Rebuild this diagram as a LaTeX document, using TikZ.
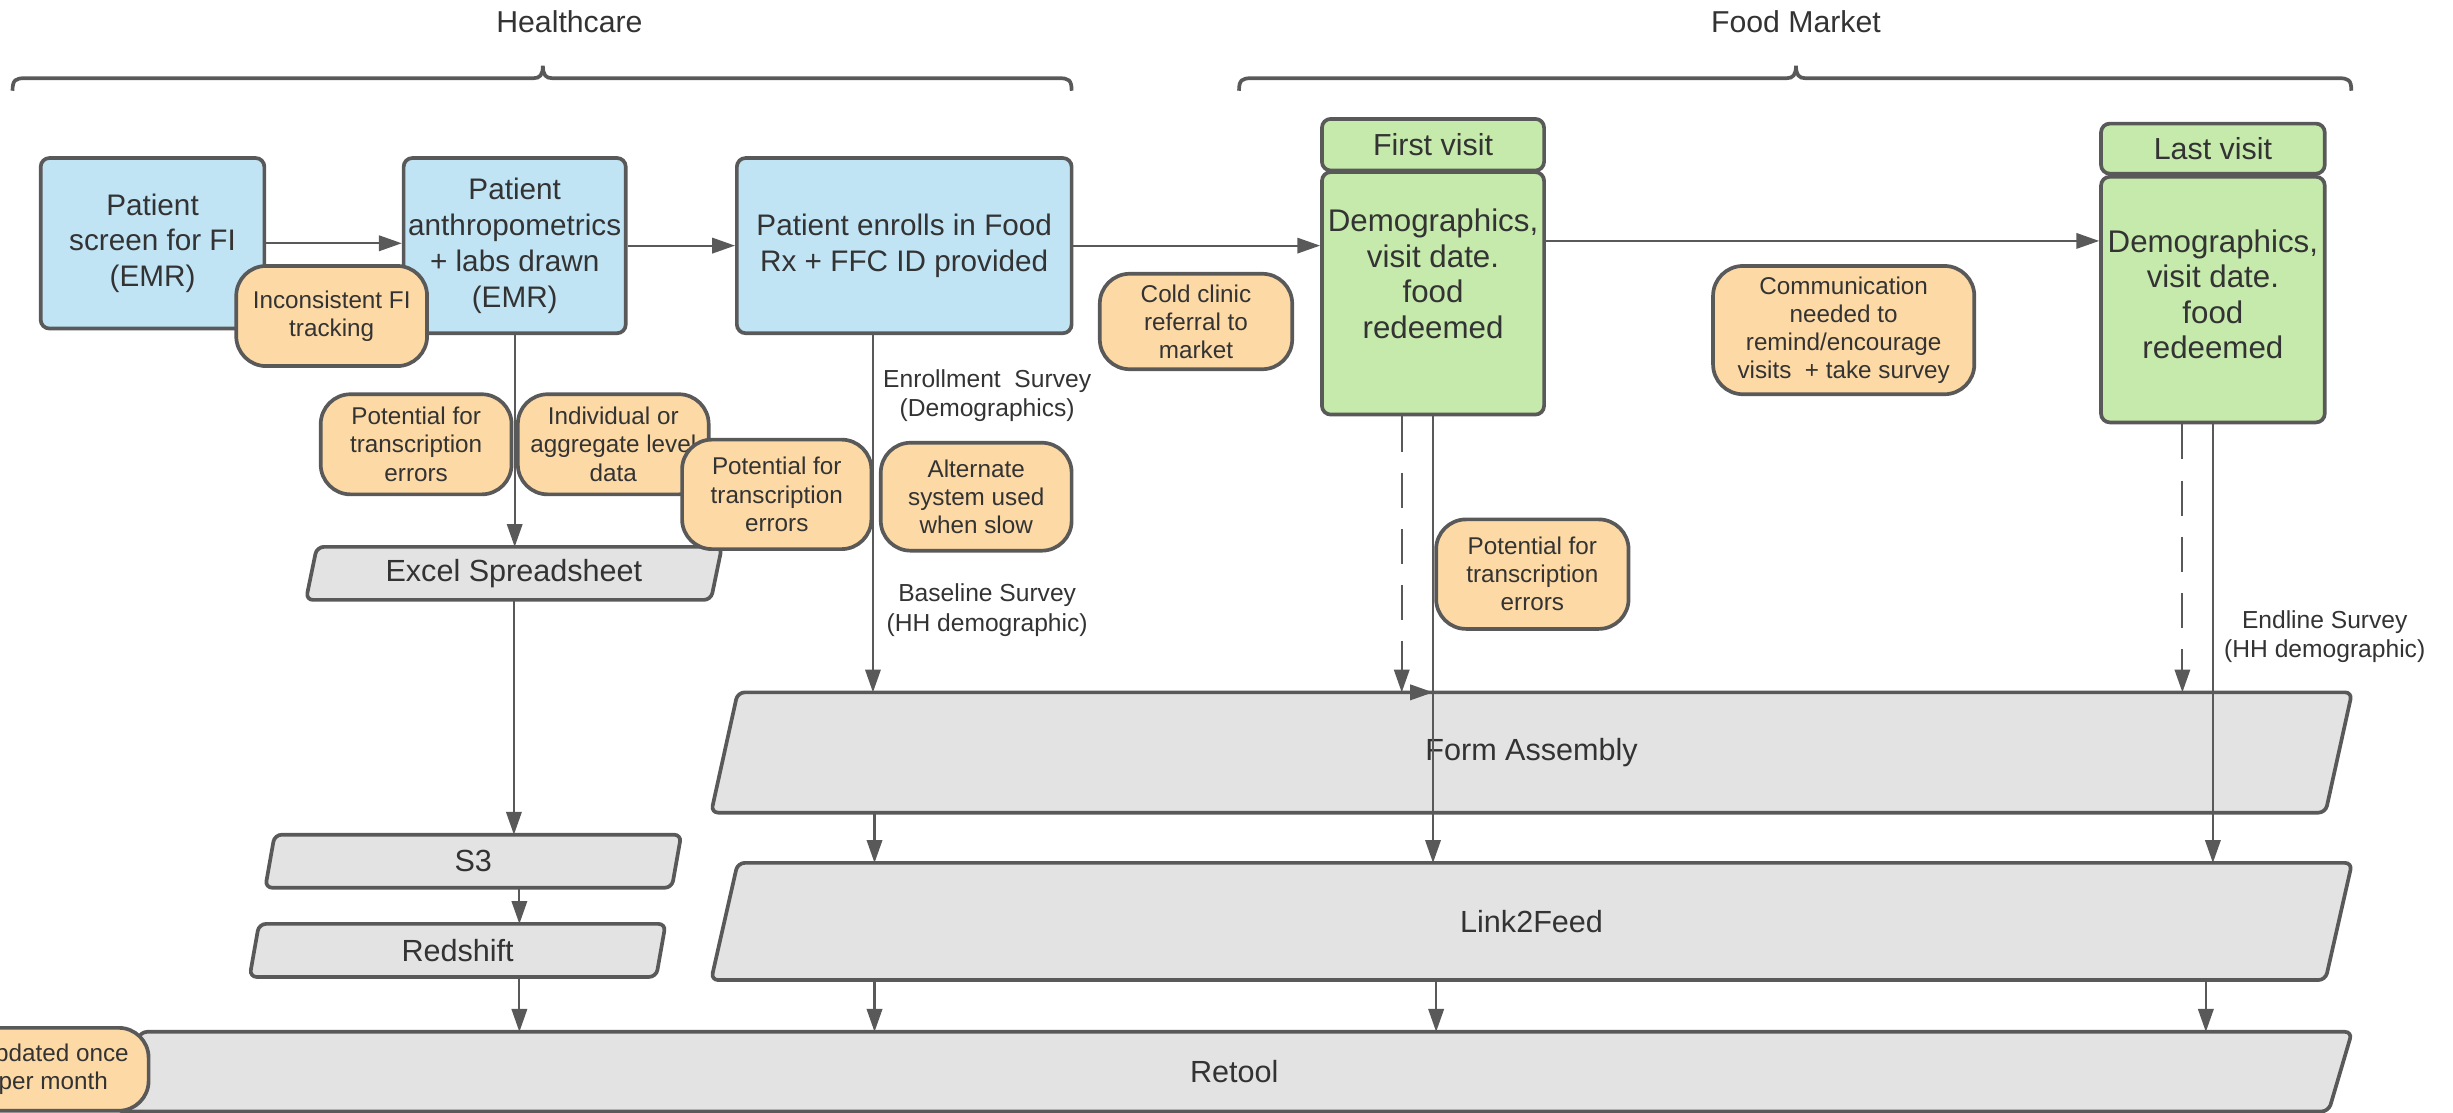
\documentclass[tikz,border=0pt]{standalone}
\usepackage{fontspec}
\setmainfont{Liberation Sans}
\usetikzlibrary{arrows.meta,backgrounds,calc}
\newlength\pxu
\setlength\pxu{0.015644cm}
\definecolor{bord}{HTML}{595959}
\definecolor{txt}{HTML}{333333}
\definecolor{bluef}{HTML}{C1E4F5}
\definecolor{greenf}{HTML}{C6E9AC}
\definecolor{orf}{HTML}{FCD9A5}
\definecolor{grayf}{HTML}{E3E3E3}
\begin{document}
\begin{tikzpicture}[x=0.015644cm, y=-0.015644cm,
  base/.style={inner sep=0pt, text=txt, align=center},
  bluebox/.style={base, draw=bord, line width=1.05pt, fill=bluef, rounded corners=2.5pt, font=\fontsize{8.45}{10.2}\selectfont},
  greenbox/.style={base, draw=bord, line width=1.05pt, fill=greenf, rounded corners=2.5pt, font=\fontsize{8.65}{10.1}\selectfont},
  gtext/.style={base, font=\fontsize{8.9}{10.1}\selectfont},
  orangebox/.style={base, draw=bord, line width=1.05pt, fill=orf, rounded corners=8.5pt, font=\fontsize{6.9}{8}\selectfont},
  paranode/.style={base, font=\fontsize{8.7}{10}\selectfont},
  parashape/.style={draw=bord, line width=1.05pt, fill=grayf, rounded corners=2pt},
  arr/.style={draw=bord, line width=0.6pt, -{Triangle[length=6.5pt,width=4.4pt]}},
  dashline/.style={dash pattern=on 10pt off 6pt},
  lbl/.style={base, font=\fontsize{7}{8.4}\selectfont},
  hdr/.style={base, font=\fontsize{8.6}{10}\selectfont},
  bracepath/.style={draw=bord, line width=1.05pt}
]
\useasboundingbox (0,0) rectangle (1568,711);

% headers and braces
\node[hdr] (hc) at (364,14) {Healthcare};
\node[hdr] (fm) at (1148,14) {Food Market};
\draw[bracepath] (8,58) .. controls (8,51) and (10,50) .. (16,50) -- (341,50) .. controls (345,50) and (347,48) .. (347,42) .. controls (347,48) and (349,50) .. (353,50) -- (677,50) .. controls (683,50) and (685,51) .. (685,58);
\draw[bracepath] (792,58) .. controls (792,51) and (794,50) .. (800,50) -- (1142,50) .. controls (1146,50) and (1148,48) .. (1148,42) .. controls (1148,48) and (1150,50) .. (1154,50) -- (1495,50) .. controls (1501,50) and (1503,51) .. (1503,58);

% gray data nodes (shapes drawn on background)
\node[paranode, minimum width=265*\pxu, minimum height=33*\pxu] (excel) at (328.5,366.5) {Excel Spreadsheet};
\node[paranode, minimum width=265*\pxu, minimum height=33*\pxu] (s3) at (302.5,550.5) {S3};
\node[paranode, minimum width=265*\pxu, minimum height=33*\pxu] (redshift) at (292.5,607.5) {Redshift};
\node[paranode, minimum width=1048*\pxu, minimum height=76*\pxu] (form) at (979,481) {Form Assembly};
\node[paranode, minimum width=1048*\pxu, minimum height=74*\pxu] (link) at (979,589) {Link2Feed};
\node[paranode, minimum width=1428*\pxu, minimum height=50*\pxu] (retool) at (789,685) {Retool};
\begin{scope}[on background layer]
\foreach \n/\s in {excel/7,s3/6,redshift/6,form/17,link/17,retool/15}
  \draw[parashape] ([xshift=\s*\pxu]\n.north west) -- (\n.north east) -- ([xshift=-\s*\pxu]\n.south east) -- (\n.south west) -- cycle;
\end{scope}

% blue boxes
\node[bluebox, minimum width=143*\pxu, minimum height=109*\pxu] (box1) at (97.5,155.5) {Patient\\screen for FI\\(EMR)};
\node[bluebox, minimum width=142*\pxu, minimum height=112*\pxu] (box2) at (329,157) {Patient\\anthropometrics\\+ labs drawn\\(EMR)};
\node[bluebox, minimum width=214*\pxu, minimum height=112*\pxu] (box3) at (578,157) {Patient enrolls in Food\\Rx + FFC ID provided};

% green boxes
\node[greenbox, minimum width=142*\pxu, minimum height=33*\pxu] (fvhead) at (916,92.5) {First visit};
\node[greenbox, minimum width=142*\pxu, minimum height=155*\pxu] (fvbody) at (916,187.5) {};
\node[gtext] (fvtext) at (916,175) {Demographics,\\visit date.\\food\\redeemed};
\node[greenbox, minimum width=143*\pxu, minimum height=32*\pxu] (lvhead) at (1414.5,95) {Last visit};
\node[greenbox, minimum width=143*\pxu, minimum height=157*\pxu] (lvbody) at (1414.5,191.5) {};
\node[gtext] (lvtext) at (1414.5,188) {Demographics,\\visit date.\\food\\redeemed};

% orange notes
\node[orangebox, minimum width=122*\pxu, minimum height=64*\pxu] (incons) at (212,202) {Inconsistent FI\\tracking};
\node[orangebox, minimum width=122*\pxu, minimum height=64*\pxu] (pot1) at (266,284) {Potential for\\transcription\\errors};
\node[orangebox, minimum width=122*\pxu, minimum height=64*\pxu] (indiv) at (392,284) {Individual or\\aggregate level\\data};
\node[orangebox, minimum width=121*\pxu, minimum height=70*\pxu] (pot2) at (496.5,316) {Potential for\\transcription\\errors};
\node[orangebox, minimum width=122*\pxu, minimum height=69*\pxu] (altern) at (624,317.5) {Alternate\\system used\\when slow};
\node[orangebox, minimum width=123*\pxu, minimum height=61*\pxu] (cold) at (764.5,205.5) {Cold clinic\\referral to\\market};
\node[orangebox, minimum width=167*\pxu, minimum height=82*\pxu] (comm) at (1178.5,211) {Communication\\needed to\\remind/encourage\\visits~ + take survey};
\node[orangebox, minimum width=123*\pxu, minimum height=70*\pxu] (pot3) at (979.5,367) {Potential for\\transcription\\errors};
\node[orangebox, minimum width=122*\pxu, minimum height=53*\pxu] (upd) at (34,683.5) {Updated once\\per month};

% labels
\node[lbl] (enrl) at (631,253) {Enrollment~ Survey\\(Demographics)};
\node[lbl] (basl) at (631,390) {Baseline Survey\\(HH demographic)};
\node[lbl] (endl) at (1486,407) {Endline Survey\\(HH demographic)};

% helper coordinates
\coordinate (xa) at (332,0);
\coordinate (xb) at (558,0);
\coordinate (xc) at (559,0);
\coordinate (xd) at (896,0);
\coordinate (xe) at (918,0);
\coordinate (xf) at (1395,0);
\coordinate (xg) at (1410,0);
\coordinate (y154) at (0,154);

% connectors
\draw[arr] (box1.east) -- (box1.east -| box2.west);
\draw[arr] (box2.east) -- (box2.east -| box3.west);
\draw[arr] (box3.east) -- (box3.east -| fvbody.west);
\draw[arr] (fvbody.east |- y154) -- (lvbody.west |- y154);
\draw[arr] (box2.south) -- (box2.south |- excel.north);
\draw[arr] (excel.south) -- (excel.south |- s3.north);
\draw[arr] (s3.south -| xa) -- (redshift.north -| xa);
\draw[arr] (redshift.south -| xa) -- (retool.north -| xa);
\draw[arr] (box3.south -| xb) -- (form.north -| xb);
\draw[arr] (form.south -| xc) -- (link.north -| xc);
\draw[arr] (link.south -| xc) -- (retool.north -| xc);
\draw[arr, dashline] (fvbody.south -| xd) -- (form.north -| xd);
\draw[arr] (form.north -| xd) -- (form.north -| fvbody.south);
\draw[arr] (fvbody.south) -- (fvbody.south |- link.north);
\draw[arr] (link.south -| xe) -- (retool.north -| xe);
\draw[arr, dashline] (lvbody.south -| xf) -- (form.north -| xf);
\draw[arr] (lvbody.south) -- (lvbody.south |- link.north);
\draw[arr] (link.south -| xg) -- (retool.north -| xg);
\end{tikzpicture}
\end{document}
